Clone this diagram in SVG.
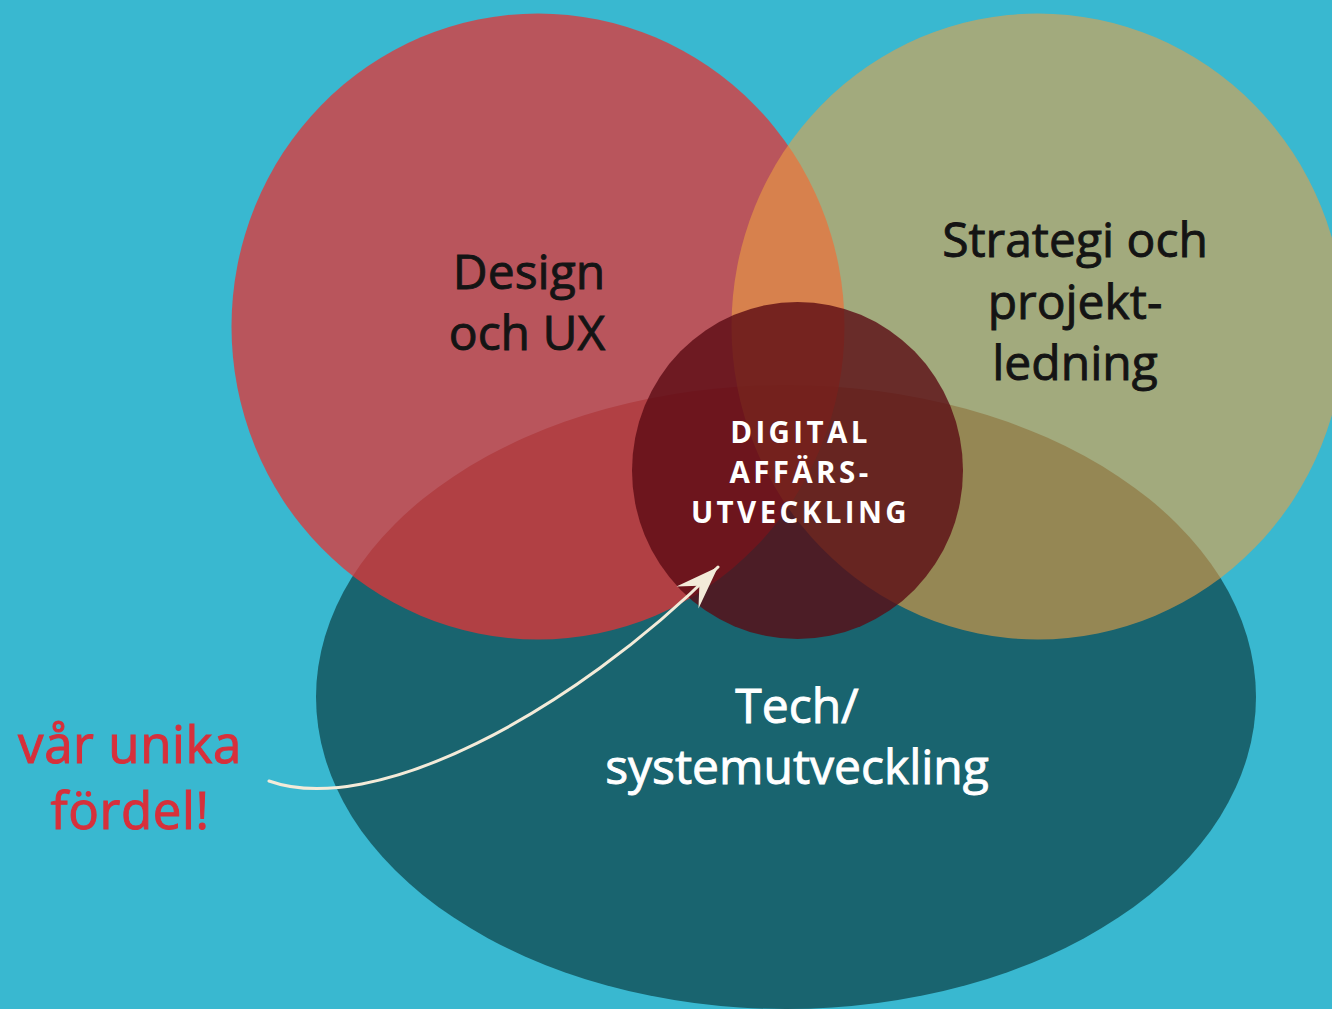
<svg xmlns="http://www.w3.org/2000/svg" width="1332" height="1009" viewBox="0 0 1332 1009">
  <defs>
    <style>
      .lbl { font-family: "Open Sans", "DejaVu Sans", sans-serif; font-weight: 400; font-size: 48px; text-anchor: middle; stroke-width: 0.9px; }
      .dark { fill: #141414; stroke: #141414; }
      .white { fill: #ffffff; stroke: #ffffff; }
      .core { font-family: "Open Sans", "DejaVu Sans", sans-serif; font-weight: 700; font-size: 29.5px; letter-spacing: 3.4px; fill: #ffffff; text-anchor: middle; }
      .accent { font-family: "Open Sans", "DejaVu Sans", sans-serif; font-weight: 400; font-size: 51px; letter-spacing: 0.6px; fill: #d7303b; stroke: #d7303b; stroke-width: 1px; text-anchor: middle; }
    </style>
    <marker id="head" markerUnits="userSpaceOnUse" markerWidth="60" markerHeight="60" viewBox="-40 -20 50 40" refX="0" refY="0" orient="auto">
      <path d="M0,0 L-36,-13 L-22,0 L-36,13 Z" fill="#f3ebd9"/>
    </marker>
  </defs>

  <rect x="0" y="0" width="1332" height="1009" fill="#39b8d0"/>

  <g id="tech">
    <ellipse cx="786" cy="697" rx="470" ry="312" fill="#19646f"/>
  </g>
  <g id="design">
    <ellipse cx="538" cy="326.5" rx="306.5" ry="313" fill="#e43435" fill-opacity="0.75"/>
  </g>
  <g id="strategi">
    <ellipse cx="1038" cy="326.5" rx="306.5" ry="313" fill="#eda042" fill-opacity="0.59"/>
  </g>
  <g id="digital">
    <ellipse cx="797.5" cy="470.5" rx="165.5" ry="168.5" fill="#5a0a13" fill-opacity="0.79"/>
  </g>

  <g id="labels">
    <text class="lbl dark" x="529" y="289">Design</text>
    <text class="lbl dark" x="527" y="350">och UX</text>
    <text class="lbl dark" x="1075" y="257">Strategi och</text>
    <text class="lbl dark" x="1075" y="319">projekt-</text>
    <text class="lbl dark" x="1075" y="380">ledning</text>
    <text class="lbl white" x="797" y="723">Tech/</text>
    <text class="lbl white" x="797" y="784">systemutveckling</text>
    <text class="core" x="800.5" y="443">DIGITAL</text>
    <text class="core" x="800.5" y="483">AFFÄRS-</text>
    <text class="core" x="800.5" y="523">UTVECKLING</text>
  </g>

  <g id="callout">
    <text class="accent" x="130" y="763">vår unika</text>
    <text class="accent" x="130" y="829">fördel!</text>
  </g>

  <g id="connectors">
    <path d="M269,781 C372,818 570,715 718,567" fill="none" stroke="#f3ebd9" stroke-width="3" stroke-linecap="round" marker-end="url(#head)"/>
  </g>
</svg>
